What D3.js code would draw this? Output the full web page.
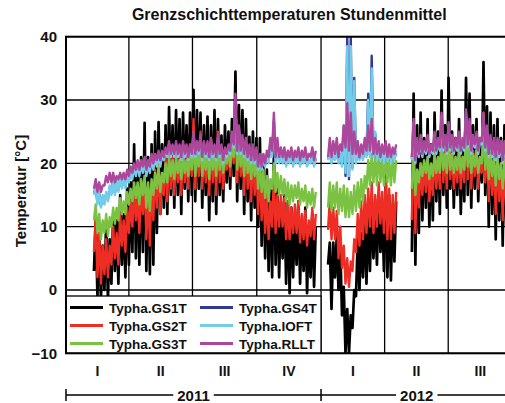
<!DOCTYPE html>
<html>
<head>
<meta charset="utf-8">
<script src="https://cdn.jsdelivr.net/npm/d3@7"></script>
<style>
  body { margin: 0; background: #fff; }
  text { font-family: Arial, "Liberation Sans", sans-serif; font-weight: bold; fill: #111; }
</style>
</head>
<body>
<svg id="chart" width="505" height="403"></svg>
<script>
// Sensor names and colours
const seriesNames = ["Typha.GS1T", "Typha.GS2T", "Typha.GS3T", "Typha.GS4T", "Typha.IOFT", "Typha.RLLT"];
const seriesColors = ["#000000", "#ee2d24", "#7cc242", "#2e3a94", "#72cdea", "#ac479c"];
const yTicks = [-10, 0, 10, 20, 30, 40];
const quarterLabels = ["I", "II", "III", "IV", "I", "II", "III"];
const yearLabels = ["2011", "2012"];

// Daily-cycle envelope (low / high of the hourly means), one sample every 5 days
const firstSample = "2011-02-10";
const sampleStepDays = 5;

const gs1tLow = [3, -1, -1.5, 0, -1.5, 1, 3, 1, 4, 2,
  4, 6, 5, 4, 6, 3, 2.5, 4, 9, 12,
  13, 12, 15, 13, 15, 12, 16, 14, 15, 14,
  16, 13, 15, 11, 14, 12, 15, 14, 17, 16,
  18, 14, 16, 12, 14, 11, 13, 10, 7, 5,
  3, 2, 4, 2, 5, 1, -0.5, 2, 4, 1,
  3, -0.5, 2, 0.5,
  null, null, null,
  4, -3, 2, 0, -4, -10, -10, -6, -1, 0, 2, 1, 3, 5, 4, 6, 3, 2, 1.5, 4.5,
  null, null, null, null,
  6, 4, 9, 11, 13, 10, 11, 14, 12, 15, 13, 16, 13, 15, 12, 14, 15, 13, 16, 14, 17, 15, 10, 12, 8, 11, 7, 10, 9];
const gs1tHigh = [11, 9, 7, 11, 8, 12, 11, 15, 12, 16,
  17, 23, 19, 21, 26.4, 21, 23, 25, 26.5, 23,
  26, 28.9, 26, 28.4, 27, 28, 26, 28, 31.6, 28.4,
  28, 26, 27.4, 26, 28.4, 27, 24.4, 26, 25, 27,
  34.5, 29.2, 28.4, 27, 24.2, 25, 24, 24, 20, 19,
  17, 22, 16, 14, 15, 14, 13, 12, 14, 11,
  13, 10, 12, 10,
  null, null, null,
  7.5, 7.5, 8.5, 7, 0.5, -3, -4, 0, 8, 9, 11, 12, 14, 12, 15, 13, 19, 15, 13, 14,
  null, null, null, null,
  31, 26, 28, 24, 27, 23, 28, 25, 31.5, 26, 33.5, 25, 24, 27, 23, 33.5, 31, 26, 27, 24, 36, 29, 28, 26, 27, 24, 26, 25, 24];

const gs2tLow = [6, 2, 1, 2.5, 2, 4, 5, 4, 7, 6,
  9, 10, 11, 9, 12, 8, 7, 11, 13, 12,
  15, 14, 16, 15, 17, 15, 17, 16, 18, 16,
  18, 16, 17, 15, 17, 15, 17, 16, 19, 18,
  20, 17, 18, 15, 16, 14, 15, 12, 11, 9,
  8, 10, 9, 10, 10, 8, 8, 9, 9, 7.5,
  8, 7, 8.5, 8,
  null, null, null,
  9.5, 8, 8, 5, 3.5, 1, 0.5, 3, 6, 7, 8, 9, 10, 9, 10, 10.5, 9, 8, 8, 9,
  null, null, null, null,
  11, 9, 13, 15, 15.5, 14, 15, 16, 16, 17, 16, 17.5, 16, 17, 16, 17, 17.5, 16, 18, 16, 18.5, 17, 14, 15, 12, 14, 11, 13, 12];
const gs2tHigh = [11.5, 9, 7, 8, 7, 10, 9, 12, 11, 13,
  14, 16, 15, 17, 18, 16, 17, 19, 20, 18,
  21, 23, 21, 22, 21, 23, 21, 23, 27, 23,
  25, 22, 23, 24, 22, 25, 22, 21, 22, 24,
  28, 25, 23, 24, 21, 22, 21, 20, 17, 15,
  14, 18, 15, 15, 14.5, 14, 13, 13.5, 14, 12,
  12.5, 11, 13, 12,
  null, null, null,
  14, 13, 12.5, 10, 7, 5, 4.5, 8, 12, 14, 15, 16, 17, 15, 17, 15.5, 17.5, 16, 15, 15.5,
  null, null, null, null,
  26, 19, 20, 20, 21, 19, 22, 21, 27, 22, 26, 22, 21, 23, 21, 27, 25, 22, 23, 21, 28, 24, 22, 21, 22, 20, 21, 20, 20];

const gs3tLow = [11, 9, 8, 9, 8.5, 10, 10.5, 11, 12, 12,
  13.5, 14, 14.5, 13.5, 15, 13, 12.5, 15, 16, 15.5,
  17, 17, 18, 17.5, 18.5, 17.5, 18.5, 18, 19, 18,
  19.5, 18, 19, 17.5, 19, 18, 19, 18.5, 20, 19.5,
  21, 19, 19.5, 18, 18.5, 17.5, 18, 16, 15.5, 14.5,
  14, 16, 15.5, 15, 15, 14, 13.5, 14, 14.5, 13.5,
  14, 13, 13.5, 13,
  null, null, null,
  13, 12.5, 13, 12, 12.5, 11.5, 11.5, 12, 12.5, 13, 14, 16, 16.5, 17, 16.5, 17, 16.5, 17, 16.5, 17,
  null, null, null, null,
  16, 15, 17, 18, 18.5, 17.5, 18, 18.5, 18.5, 19, 18.5, 19, 18.5, 19, 18.5, 19, 19.5, 18.5, 19.5, 18.5, 20, 19, 17.5, 18, 16.5, 17.5, 16, 17, 16.5];
const gs3tHigh = [13.5, 12, 11, 12, 11.5, 13, 13, 14.5, 14, 15.5,
  16, 17, 17, 17.5, 18, 17, 17.5, 18.5, 19.5, 18.5,
  20, 21, 20.5, 21, 20.5, 21.5, 20.5, 21.5, 24, 21.5,
  23, 21, 22, 22.5, 21.5, 23, 21.5, 21, 22, 23,
  27, 23.5, 22.5, 23, 21, 21.5, 21, 20.5, 19, 18,
  17.5, 20, 18.5, 18, 17.5, 17, 16.5, 16.5, 17, 16,
  16.5, 15.5, 16, 15.5,
  null, null, null,
  17, 16.5, 17, 16, 16.5, 16, 15.5, 16.5, 17, 17.5, 18, 20.5, 21.5, 21, 22, 20.5, 22, 20.5, 21, 20.5,
  null, null, null, null,
  22, 19, 20, 20.5, 21, 20, 21.5, 21, 24, 21.5, 23.5, 21.5, 21, 22, 21, 24, 23, 21.5, 22, 21, 25, 23, 21.5, 21, 21, 20, 20.5, 20, 20];

const gs4tLow = [15.3, 13.8, 13.3, 13.8, 14.3, 15.3, 15.3, 15.8, 16.3, 16.3,
  17.3, 17.8, 18.3, 18.3, 18.8, 18.3, 18.8, 19.3, 19.8, 19.8,
  20.8, 21.3, 21.3, 21.3, 21.3, 20.8, 21.3, 20.8, 21.3, 21.3,
  21.8, 20.8, 21.3, 20.8, 21.3, 20.8, 21.3, 20.3, 21.3, 21.8,
  22.8, 21.8, 21.8, 21.3, 20.8, 20.3, 20.3, 19.3, 19.3, 19.8,
  20.3, 21.3, 20.3, 20.3, 20.3, 19.8, 20.3, 19.8, 20.3, 19.8,
  20.3, 19.8, 20.3, 19.8,
  null, null, null,
  20.8, 20.3, 20.8, 20.3, 19.8, 18, 17.5, 19.3, 20.3, 20.8, 20.8, 21.3, 21.3, 21.3, 20.8, 20.8, 20.3, 20.8, 20.3, 20.8,
  null, null, null, null,
  20.8, 20.3, 21.3, 21.3, 21.8, 21.3, 21.8, 21.8, 22.3, 22.3, 21.8, 22.3, 21.8, 22.3, 21.8, 22.3, 22.8, 21.8, 22.8, 21.8, 23.3, 22.3, 21.3, 21.3, 20.8, 21.3, 20.3, 20.8, 20.8];
const gs4tHigh = [16.2, 15.2, 14.7, 15.2, 16.2, 17.2, 17.2, 17.7, 17.7, 18.2,
  18.7, 19.2, 19.7, 19.7, 20.2, 19.7, 20.7, 20.7, 21.2, 21.2,
  21.7, 22.7, 22.2, 22.7, 22.2, 22.7, 22.2, 22.2, 24.2, 22.7,
  23.7, 22.7, 22.7, 23.2, 22.2, 23.7, 22.2, 21.7, 22.2, 24.2,
  29.7, 25.2, 23.7, 23.2, 22.2, 22.2, 21.7, 20.7, 20.7, 21.2,
  23.2, 26.7, 23.2, 21.2, 21.2, 20.7, 21.2, 20.7, 21.2, 20.7,
  21.2, 20.2, 21.2, 20.7,
  null, null, null,
  21.7, 21.2, 21.7, 21.2, 25.7, 40, 40, 33.5, 22.7, 21.7, 22.7, 31, 37, 24.7, 22.2, 21.7, 21.7, 21.7, 21.2, 21.7,
  null, null, null, null,
  26.2, 23.2, 23.7, 22.7, 23.7, 22.2, 24.2, 23.2, 27.2, 23.7, 25.7, 23.7, 23.2, 24.2, 23.2, 27.7, 26.2, 23.7, 24.2, 23.2, 27.2, 25.2, 23.7, 23.2, 23.2, 22.7, 22.7, 22.2, 22.2];

const ioftLow = [15, 13.5, 13, 13.5, 14, 15, 15, 15.5, 16, 16,
  17, 17.5, 18, 18, 18.5, 18, 18.5, 19, 19.5, 19.5,
  20.5, 21, 21, 21, 21, 20.5, 21, 20.5, 21, 21,
  21.5, 20.5, 21, 20.5, 21, 20.5, 21, 20, 21, 21.5,
  22.5, 21.5, 21.5, 21, 20.5, 20, 20, 19, 19, 19.5,
  20, 21, 20, 20, 20, 19.5, 20, 19.5, 20, 19.5,
  20, 19.5, 20, 19.5,
  null, null, null,
  20.5, 20, 20.5, 20, 19.5, 18.5, 18, 19, 20, 20.5, 20.5, 21, 21, 21, 20.5, 20.5, 20, 20.5, 20, 20.5,
  null, null, null, null,
  20.5, 20, 21, 21, 21.5, 21, 21.5, 21.5, 22, 22, 21.5, 22, 21.5, 22, 21.5, 22, 22.5, 21.5, 22.5, 21.5, 23, 22, 21, 21, 20.5, 21, 20, 20.5, 20.5];
const ioftHigh = [16.5, 15.5, 15, 15.5, 16.5, 17.5, 17.5, 18, 18, 18.5,
  19, 19.5, 20, 20, 20.5, 20, 21, 21, 21.5, 21.5,
  22, 23, 22.5, 23, 22.5, 23, 22.5, 22.5, 24.5, 23,
  24, 23, 23, 23.5, 22.5, 24, 22.5, 22, 22.5, 24.5,
  30, 25.5, 24, 23.5, 22.5, 22.5, 22, 21, 21, 21.5,
  23.5, 27, 23.5, 21.5, 21.5, 21, 21.5, 21, 21.5, 21,
  21.5, 20.5, 21.5, 21,
  null, null, null,
  22, 21.5, 22, 21.5, 26, 38.5, 38.5, 33, 23, 22, 23, 30, 35, 25, 22.5, 22, 22, 22, 21.5, 22,
  null, null, null, null,
  26.5, 23.5, 24, 23, 24, 22.5, 24.5, 23.5, 27.5, 24, 26, 24, 23.5, 24.5, 23.5, 28, 26.5, 24, 24.5, 23.5, 27.5, 25.5, 24, 23.5, 23.5, 23, 23, 22.5, 22.5];

const rlltLow = [16, 15.5, 15.5, 16.5, 17, 17, 17, 17.5, 17.5, 17.5,
  18, 18.5, 19, 19, 19.5, 19, 19.5, 20, 20.5, 20.5,
  21, 21.5, 21.5, 21.5, 21.5, 21, 21.5, 21, 21.5, 21.5,
  22, 21, 21.5, 21, 21.5, 21, 21.5, 20.5, 21.5, 22,
  23, 22, 22, 21.5, 21, 20.5, 20.5, 19.5, 19.5, 20,
  21, 22, 21, 21, 21, 20.5, 21, 20.5, 21, 20.5,
  21, 20.5, 21, 20.5,
  null, null, null,
  21, 21, 21.5, 21, 22, 22.5, 22, 21.5, 21.5, 21, 21.5, 22, 22, 21.5, 21.5, 21, 21.5, 21, 21, 21.5,
  null, null, null, null,
  21, 20.5, 21.5, 21.5, 22, 21.5, 22, 22, 22.5, 22.5, 22, 22.5, 22, 22.5, 22, 22.5, 23, 22, 23, 22, 23.5, 22.5, 21.5, 21.5, 21, 21.5, 20.5, 21, 21];
const rlltHigh = [17.5, 17, 16.5, 18, 18.5, 18.5, 18, 18.5, 18.5, 19,
  19.5, 20, 20.5, 20.5, 21, 20.5, 21.5, 21.5, 22, 22,
  22.5, 23.5, 23, 23.5, 23, 23.5, 23, 23, 25, 23.5,
  24.5, 23.5, 23.5, 24, 23, 24.5, 23, 22.5, 23, 25,
  31, 26, 24.5, 24, 23, 23, 22.5, 21.5, 21.5, 22,
  24, 28, 24, 22.5, 22.5, 22, 22.5, 22, 22.5, 22,
  22.5, 21.5, 22.5, 22,
  null, null, null,
  24, 23.5, 24, 23, 26, 29.5, 28, 25, 23.5, 23, 24, 26, 27, 24, 23.5, 23, 23.5, 23, 22.5, 23,
  null, null, null, null,
  27, 24, 24.5, 23.5, 24.5, 23, 25, 24, 28, 24.5, 26.5, 24.5, 24, 25, 24, 28.5, 27, 24.5, 25, 24, 28, 26, 24.5, 24, 24, 23.5, 23.5, 23, 23];

const seriesLow = [gs1tLow, gs2tLow, gs3tLow, gs4tLow, ioftLow, rlltLow];
const seriesHigh = [gs1tHigh, gs2tHigh, gs3tHigh, gs4tHigh, ioftHigh, rlltHigh];

// ---- layout ----
const plot = { left: 66, top: 36.7, right: 512.5, bottom: 353.3 };
const svg = d3.select("#chart");

const x = d3.scaleTime()
  .domain([new Date(2011, 0, 1), new Date(2012, 9, 1)])
  .range([plot.left, plot.right]);
const y = d3.scaleLinear().domain([-10, 40]).range([plot.bottom, plot.top]);

// Title
svg.append("text")
  .attr("x", (plot.left + plot.right) / 2).attr("y", 20)
  .attr("text-anchor", "middle").style("font-size", "16px")
  .text("Grenzschichttemperaturen Stundenmittel");

// Gridlines
const grid = svg.append("g").attr("stroke", "#000").attr("stroke-width", 1.3);
grid.selectAll("line.h").data(yTicks).join("line")
  .attr("x1", plot.left).attr("x2", plot.right)
  .attr("y1", d => y(d)).attr("y2", d => y(d));
const quarterStarts = d3.timeMonth.range(new Date(2011, 3, 1), new Date(2012, 9, 1), 3);
grid.selectAll("line.v").data(quarterStarts).join("line")
  .attr("x1", d => x(d)).attr("x2", d => x(d))
  .attr("y1", plot.top).attr("y2", plot.bottom);

// Y axis labels
const yAxis = svg.append("g")
  .attr("transform", `translate(${plot.left},0)`)
  .call(d3.axisLeft(y).tickValues(yTicks).tickSize(0).tickPadding(9).tickFormat(d3.format("d")));
yAxis.select(".domain").remove();
yAxis.selectAll("text").style("font-size", "15px").style("font-family", "Arial, 'Liberation Sans', sans-serif")
  .style("font-weight", "bold").attr("fill", "#111");

svg.append("text")
  .attr("transform", "translate(21,191) rotate(-90)")
  .attr("text-anchor", "middle").attr("dy", "0.35em").style("font-size", "15px")
  .text("Temperatur [°C]");

// Series: each sample draws the daily low then the daily high, giving the dense hourly band
svg.append("clipPath").attr("id", "plotClip").append("rect")
  .attr("x", plot.left).attr("y", plot.top)
  .attr("width", plot.right - plot.left).attr("height", plot.bottom - plot.top);

const start = d3.timeParse("%Y-%m-%d")(firstSample);
function envelopePoints(lo, hi) {
  const pts = [];
  lo.forEach((v, i) => {
    const t = d3.timeDay.offset(start, i * sampleStepDays);
    pts.push({ t, v });
    pts.push({ t: d3.timeHour.offset(t, sampleStepDays * 12), v: hi[i] });
  });
  return pts;
}
const line = d3.line()
  .defined(d => d.v != null)
  .x(d => x(d.t)).y(d => y(d.v));

const dataLayer = svg.append("g").attr("clip-path", "url(#plotClip)");
seriesNames.forEach((name, k) => {
  dataLayer.append("path")
    .datum(envelopePoints(seriesLow[k], seriesHigh[k]))
    .attr("fill", "none")
    .attr("stroke", seriesColors[k])
    .attr("stroke-width", k === 0 ? 2.7 : 2.4)
    .attr("stroke-linejoin", "round")
    .attr("d", line);
});

// Legend (white box in the lower-left corner of the plot)
const legendBox = { x: plot.left, y: 296, w: x(new Date(2012, 0, 1)) - plot.left, h: plot.bottom - 296 };
const legend = svg.append("g");
legend.append("rect")
  .attr("x", legendBox.x).attr("y", legendBox.y)
  .attr("width", legendBox.w).attr("height", legendBox.h)
  .attr("fill", "#fff").attr("stroke", "#000").attr("stroke-width", 1.3);
const legendCols = [70, 200];
const legendRows = [307.5, 325.5, 343.5];
seriesNames.forEach((name, k) => {
  const cx = legendCols[Math.floor(k / 3)];
  const cy = legendRows[k % 3];
  legend.append("line")
    .attr("x1", cx).attr("x2", cx + 33).attr("y1", cy).attr("y2", cy)
    .attr("stroke", seriesColors[k]).attr("stroke-width", 3);
  legend.append("text")
    .attr("x", cx + 39).attr("y", cy + 5)
    .style("font-size", "13.5px").text(name);
});

// Plot frame
svg.append("rect")
  .attr("x", plot.left).attr("y", plot.top)
  .attr("width", plot.right - plot.left).attr("height", plot.bottom - plot.top)
  .attr("fill", "none").attr("stroke", "#000").attr("stroke-width", 2);

// Quarter labels
const quarterMids = d3.timeMonth.range(new Date(2011, 0, 1), new Date(2012, 9, 1), 3)
  .map(d => (x(d) + x(d3.timeMonth.offset(d, 3))) / 2);
svg.selectAll("text.q").data(quarterLabels).join("text")
  .attr("x", (d, i) => quarterMids[i]).attr("y", 375.5)
  .attr("text-anchor", "middle").style("font-size", "14px")
  .text(d => d);

// Year axis
const yearStarts = [new Date(2011, 0, 1), new Date(2012, 0, 1), new Date(2012, 9, 1)];
const yearAxisY = 395;
svg.append("line")
  .attr("x1", x(yearStarts[0])).attr("x2", x(yearStarts[2]))
  .attr("y1", yearAxisY).attr("y2", yearAxisY)
  .attr("stroke", "#000").attr("stroke-width", 1.5);
svg.selectAll("line.yt").data(yearStarts).join("line")
  .attr("x1", d => x(d)).attr("x2", d => x(d))
  .attr("y1", yearAxisY - 6).attr("y2", yearAxisY + 6)
  .attr("stroke", "#000").attr("stroke-width", 1.5);
yearLabels.forEach((label, i) => {
  const cx = (x(yearStarts[i]) + x(yearStarts[i + 1])) / 2;
  const t = svg.append("text")
    .attr("x", cx).attr("y", yearAxisY + 5.5)
    .attr("text-anchor", "middle").style("font-size", "15px")
    .text(label);
  const bb = t.node().getBBox();
  svg.insert("rect", () => t.node())
    .attr("x", bb.x - 4).attr("y", yearAxisY - 3)
    .attr("width", bb.width + 8).attr("height", 6)
    .attr("fill", "#fff");
});
</script>
</body>
</html>
